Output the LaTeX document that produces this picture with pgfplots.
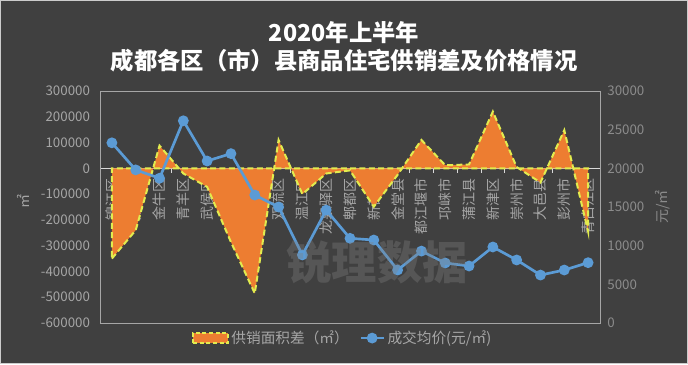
\documentclass[border=0pt]{standalone}
\usepackage{fontspec}
\setmainfont{Noto Sans CJK SC}
\usepackage{pgfplots}
\pgfplotsset{compat=1.18}
\definecolor{bg}{HTML}{404040}
\definecolor{tickgray}{HTML}{A6A6A6}
\definecolor{rgray}{HTML}{8C8C8C}
\definecolor{framegray}{HTML}{A6A6A6}
\definecolor{areaorange}{HTML}{ED7D31}
\definecolor{dashyellow}{HTML}{E2EC4E}
\definecolor{lineblue}{HTML}{5B9BD5}
\pgfplotstableread{
x area
0 -350000
1 -240000
2 88000
3 -20000
4 -72000
5 -286000
6 -485000
7 110000
8 -100000
9 -20000
10 -8000
11 -149000
12 -25000
13 110000
14 12000
15 15000
16 220000
17 5000
18 -55000
19 148000
20 -245000
}\areadata
\pgfplotstableread{
x price
0 23300
1 19800
2 18720
3 26150
4 20950
5 21900
6 16550
7 15000
8 8800
9 14600
10 10950
11 10730
12 6850
13 9300
14 7760
15 7370
16 9830
17 8150
18 6200
19 6850
20 7800
}\pricedata
\begin{document}
\begin{tikzpicture}
\fill[bg] (0pt,0pt) rectangle (516pt,273pt);
\useasboundingbox (0pt,0pt) rectangle (516pt,273pt);
\draw[color=white!80!black, line width=0.75pt] (0.3pt,0.3pt) rectangle (515.7pt,272.7pt);
\node[text=white, font=\fontsize{17.5}{20}\selectfont\bfseries] at (258pt,248.25pt) {2020年上半年};
\node[text=white, font=\fontsize{17.5}{20}\selectfont\bfseries] at (258pt,227.25pt) {成都各区（市）县商品住宅供销差及价格情况};
\node[text=tickgray, rotate=90, font=\fontsize{10.5}{12}\selectfont] at (17.25pt,121.5pt) {㎡};
\node[text=rgray, rotate=90, font=\fontsize{10.5}{12}\selectfont] at (497.25pt,117.75pt) {元/㎡};
\begin{axis}[
  at={(75pt,30.75pt)}, anchor=south west,
  width=375pt, height=174pt, scale only axis,
  xmin=-0.5, xmax=20.5, ymin=-600000, ymax=300000,
  axis x line*=middle, axis y line*=left,
  x axis line style={draw=white!85!black, line width=0.6pt},
  y axis line style={draw=none},
  xtick={0,...,20},
  xticklabels={锦江区,成华区,金牛区,青羊区,武侯区,高新区,天府新区,双流区,温江区,龙泉驿区,郫都区,新都区,金堂县,都江堰市,邛崃市,蒲江县,新津区,崇州市,大邑县,彭州市,青白江区},
  major x tick style={draw=none},
  minor xtick={-0.5,0.5,...,20.5},
  minor x tick style={draw=white!85!black, line width=0.6pt},
  minor tick length=3.5pt,
  xtick align=outside,
  xticklabel style={rotate=90, anchor=east, text=tickgray, font=\fontsize{10.5}{12}\selectfont},
  ytick={-600000,-500000,...,300000},
  ytick style={draw=none},
  scaled y ticks=false,
  yticklabel style={text=tickgray, font=\fontsize{10}{11}\selectfont, xshift=-4pt, /pgf/number format/.cd, fixed, 1000 sep={}, assume math mode=true},
  clip=false,
]
\draw[framegray, line width=0.6pt] (rel axis cs:0,0) rectangle (rel axis cs:1,1);
\addplot[fill=areaorange, draw=dashyellow, line width=1.5pt, dash pattern=on 4.5pt off 2.5pt] table[x=x, y=area] {\areadata} \closedcycle;
\end{axis}
\begin{axis}[
  at={(75pt,30.75pt)}, anchor=south west,
  width=375pt, height=174pt, scale only axis,
  xmin=-0.5, xmax=20.5, ymin=0, ymax=30000,
  axis x line=none, axis y line*=right,
  y axis line style={draw=none},
  ytick={0,5000,...,30000},
  ytick style={draw=none},
  scaled y ticks=false,
  yticklabel style={text=rgray, font=\fontsize{10}{11}\selectfont, xshift=2pt, /pgf/number format/.cd, fixed, 1000 sep={}, assume math mode=true},
  legend style={at={(0.486,-0.065)}, anchor=center, draw=none, fill=none, text=tickgray, font=\fontsize{11}{12}\selectfont, legend columns=2, /tikz/every even column/.append style={column sep=6pt}},
  clip=false,
]
\addlegendimage{area legend, legend image code/.code={\draw[fill=areaorange, draw=dashyellow, line width=1.5pt, dash pattern=on 3pt off 2pt] (0pt,-4pt) rectangle (26pt,4pt);}}
\addlegendentry{供销面积差（㎡）}
\addplot[color=lineblue, line width=2pt, mark=*, mark size=3pt, mark options={fill=lineblue, draw=lineblue}] table[x=x, y=price] {\pricedata};
\addlegendentry{成交均价(元/㎡)}
\end{axis}
\node[text=gray, opacity=0.35, font=\fontsize{34}{36}\selectfont\bfseries] at (282.75pt,76.5pt) {锐理数据};
\end{tikzpicture}
\end{document}
